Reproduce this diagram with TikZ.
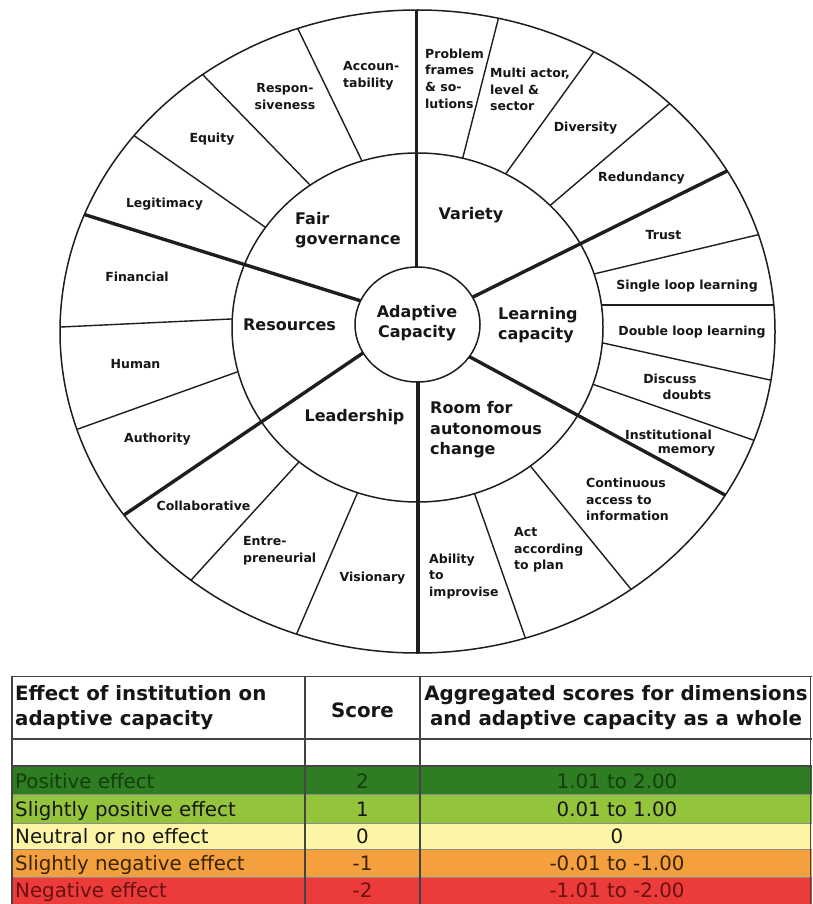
\documentclass[tikz,border=0pt]{standalone}
\usepackage{fontspec}
\setmainfont{DejaVu Sans}
\usetikzlibrary{calc}
\definecolor{ink}{HTML}{161616}
\definecolor{wline}{HTML}{1E1E1E}
\definecolor{tline}{HTML}{444444}
\definecolor{cDkGreen}{HTML}{2E7D23}
\definecolor{cLtGreen}{HTML}{94C43C}
\definecolor{cYellow}{HTML}{FDF5A6}
\definecolor{cOrange}{HTML}{F4A03E}
\definecolor{cRed}{HTML}{EC3B3B}
\definecolor{tPos}{HTML}{143F0C}
\definecolor{tNeg}{HTML}{6A1010}
\definecolor{tSNeg}{HTML}{3A2400}
\tikzset{
  lab/.style={font=\bfseries\fontsize{12.5}{16.7}\selectfont, inner sep=0pt, text=ink},
  labl/.style={lab, align=left, anchor=west},
  labc/.style={lab, align=center},
  dim/.style={font=\bfseries\fontsize{16}{20.5}\selectfont, inner sep=0pt, text=ink},
  dimleft/.style={dim, align=left, anchor=west},
  subline/.style={draw=wline, line width=1.4pt},
  divline/.style={draw=wline, line width=3.4pt},
  ringline/.style={draw=wline, line width=1.5pt},
  tabline/.style={draw=tline, line width=1.4pt},
  rowsep/.style={draw=black!45, line width=0.8pt},
  hdr/.style={font=\bfseries\fontsize{19.8}{25}\selectfont, inner sep=0pt, text=ink},
  rowtxt/.style={font=\fontsize{19.8}{24}\selectfont, inner sep=0pt, text=ink, text height=14.5pt, text depth=4.5pt}
}
\begin{document}
\begin{tikzpicture}[x=1pt,y=-1pt]
\useasboundingbox (0,0) rectangle (812,904);
\fill[white] (0,0) rectangle (812,904);

% ---------- wheel ----------
\begin{scope}
  \clip (417.5,331.5) ellipse [x radius=357.5pt, y radius=321.5pt];
  \foreach \xa/\ya/\xb/\yb in {
      362/161/298/29, 309/184/205/77, 265/227/136/137, 231/319/61/327,
      237/372/78/429, 298/463/193/578, 357/494/297/633, 475/495/525/637,
      532/468/630/588, 595/385/753/440, 603/343/770/380, 603/305/772/305,
      598/273/757/235, 553/203/668/105, 507/172/593/53, 463/157/498/20}
    \draw[subline] ($(\xa,\ya)!-0.15!(\xb,\yb)$) -- ($(\xa,\ya)!1.15!(\xb,\yb)$);
  \fill[white] (417.5,327.5) ellipse [x radius=185.5pt, y radius=174.5pt];
  \foreach \xa/\ya/\xb/\yb in {
      473/297/725/172, 470/357/725/495, 363/353/124/515, 358/300/86/215,
      416.5/300/416.5/0, 418/350/418/660}
    \draw[divline] ($(\xa,\ya)!-0.1!(\xb,\yb)$) -- ($(\xa,\ya)!1.1!(\xb,\yb)$);
\end{scope}
\draw[ringline] (417.5,327.5) ellipse [x radius=185.5pt, y radius=174.5pt];
\filldraw[fill=white, ringline] (417.5,324.5) ellipse [x radius=62.5pt, y radius=57.5pt];
\draw[ringline] (417.5,331.5) ellipse [x radius=357.5pt, y radius=321.5pt];

% sub-factor labels
\node[labl] (acc) at (343,75.5) {Accoun-\\tability};
\node[labc] (resp) at (285,96.5) {Respon-\\siveness};
\node[lab] (equ) at (212,139) {Equity};
\node[lab] (leg) at (164.5,204) {Legitimacy};
\node[lab] (fin) at (137,277) {Financial};
\node[lab] (hum) at (135.5,364) {Human};
\node[lab] (aut) at (157.5,439) {Authority};
\node[lab] (col) at (203.5,506) {Collaborative};
\node[labl] (ent) at (243,551) {Entre-\\preneurial};
\node[lab] (vis) at (372.5,578) {Visionary};
\node[labl] (abi) at (429,576.5) {Ability\\to\\improvise};
\node[labl] (act) at (514,550) {Act\\according\\to plan};
\node[labl] (con) at (586,499.5) {Continuous\\access to\\information};
\node[lab] (ins1) at (668.5,435) {Institutional};
\node[lab] (ins2) at (686.5,451) {memory};
\node[lab] (dis1) at (670,379) {Discuss};
\node[lab] (dis2) at (687,395) {doubts};
\node[lab] (dll) at (692,332) {Double loop learning};
\node[lab] (sll) at (687,286) {Single loop learning};
\node[lab] (tru) at (663.5,235) {Trust};
\node[lab] (red) at (641.5,178) {Redundancy};
\node[lab] (div) at (585.5,128) {Diversity};
\node[labl] (mul) at (490,89.5) {Multi actor,\\level \&\\sector};
\node[labl] (pro) at (425,78.5) {Problem\\frames\\\& so-\\lutions};

% dimension labels
\node[dimleft] (fair) at (295,230) {Fair\\governance};
\node[dim] (var) at (471,215) {Variety};
\node[dimleft] (lea) at (498,325) {Learning\\capacity};
\node[dimleft] (room) at (430,430) {Room for\\autonomous\\change};
\node[dim] (ldr) at (354.5,417) {Leadership};
\node[dim] (res) at (289.5,325) {Resources};
\node[dim, align=center] (ac) at (417,323) {Adaptive\\Capacity};

% ---------- table ----------
\begin{scope}
  \clip (0,0) rectangle (812,904);
  \fill[cDkGreen] (12,766) rectangle (812,794);
  \fill[cLtGreen] (12,794) rectangle (812,823);
  \fill[cYellow]  (12,823) rectangle (812,849);
  \fill[cOrange]  (12,849) rectangle (812,877);
  \fill[cRed]     (12,877) rectangle (812,912);
  \foreach \yy in {794,823,849,877}
    \draw[rowsep] (12,\yy) -- (812,\yy);
  \draw[tabline] (12,912) -- (12,676.5) -- (812,676.5);
  \draw[tabline] (12,739) -- (812,739);
  \draw[tabline] (12,766) -- (812,766);
  \draw[tabline] (305,676.5) -- (305,912);
  \draw[tabline] (420,676.5) -- (420,912);
  \draw[tabline] (810.5,676.5) -- (810.5,912);
\end{scope}

\node[hdr, align=left, anchor=west] (h1) at (15,708) {Effect of institution on\\adaptive capacity};
\node[hdr] (h2) at (362.5,710) {Score};
\node[hdr, align=center] (h3) at (616,708) {Aggregated scores for dimensions\\and adaptive capacity as a whole};

\node[rowtxt, anchor=west, text=tPos] (r1a) at (15,783) {Positive effect};
\node[rowtxt, text=tPos] (r1b) at (362.5,783) {2};
\node[rowtxt, text=tPos] (r1c) at (617,783) {1.01 to 2.00};

\node[rowtxt, anchor=west] (r2a) at (15,811) {Slightly positive effect};
\node[rowtxt] (r2b) at (362.5,811) {1};
\node[rowtxt] (r2c) at (617,811) {0.01 to 1.00};

\node[rowtxt, anchor=west] (r3a) at (15,838) {Neutral or no effect};
\node[rowtxt] (r3b) at (362.5,838) {0};
\node[rowtxt] (r3c) at (617,838) {0};

\node[rowtxt, anchor=west, text=tSNeg] (r4a) at (15,865) {Slightly negative effect};
\node[rowtxt, text=tSNeg] (r4b) at (362.5,865) {-1};
\node[rowtxt, text=tSNeg] (r4c) at (617,865) {-0.01 to -1.00};

\node[rowtxt, anchor=west, text=tNeg] (r5a) at (15,892) {Negative effect};
\node[rowtxt, text=tNeg] (r5b) at (362.5,892) {-2};
\node[rowtxt, text=tNeg] (r5c) at (617,892) {-1.01 to -2.00};
\end{tikzpicture}
\end{document}
